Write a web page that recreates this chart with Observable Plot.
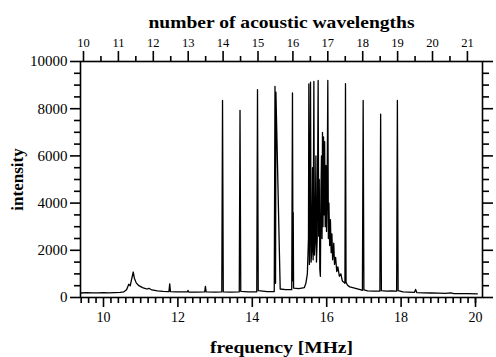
<!DOCTYPE html>
<html>
<head>
<meta charset="utf-8">
<script src="https://cdn.jsdelivr.net/npm/d3@7"></script>
<script src="https://cdn.jsdelivr.net/npm/@observablehq/plot@0.6"></script>
<style>
  html, body { margin: 0; padding: 0; background: #fff; }
  #chart svg { display: block; }
</style>
</head>
<body>
<div id="chart"></div>
<script>
// spectrum: frequency [MHz] and intensity
const freq = [
  9.40, 9.55, 9.70, 9.85, 10.00, 10.15, 10.30, 10.45, 10.55, 10.62, 10.68, 10.72, 10.76, 10.80, 10.83, 10.88, 10.95, 11.05, 11.13, 11.17, 11.22, 11.30, 11.45, 11.60, 11.76,
  11.78, 11.80, 11.95, 12.10, 12.25, 12.27, 12.29, 12.50, 12.72, 12.74, 12.76, 13.00, 13.18, 13.20, 13.22, 13.40, 13.65, 13.67, 13.69, 13.90, 14.12, 14.14, 14.16, 14.40, 14.59,
  14.61, 14.625, 14.635, 14.75, 14.90, 15.06, 15.08, 15.095, 15.10, 15.11, 15.25, 15.40, 15.44, 15.48, 15.51, 15.52, 15.535, 15.55, 15.565, 15.58, 15.60, 15.62, 15.635, 15.655,
  15.67, 15.69, 15.71, 15.725, 15.745, 15.77, 15.785, 15.80, 15.815, 15.83, 15.845, 15.86, 15.875, 15.887, 15.90, 15.915, 15.93, 15.945, 15.96, 15.98, 15.995, 16.01, 16.03,
  16.045, 16.06, 16.08, 16.10, 16.12, 16.14, 16.16, 16.19, 16.21, 16.24, 16.27, 16.30, 16.34, 16.38, 16.42, 16.46, 16.49, 16.505, 16.52, 16.56, 16.62, 16.70, 16.80, 16.90,
  16.96, 16.98, 17.00, 17.10, 17.25, 17.43, 17.45, 17.47, 17.60, 17.75, 17.88, 17.90, 17.92, 18.05, 18.20, 18.36, 18.39, 18.42, 18.60, 18.80, 19.00, 19.20, 19.33, 19.40,
  19.60, 19.80, 20.05
];
const intensity = [
  190, 205, 195, 200, 210, 200, 205, 215, 240, 330, 560, 500, 800, 1080, 820, 620, 500, 420, 380, 360, 390, 320, 280, 260, 250,
  580, 250, 240, 235, 235, 300, 230, 230, 240, 470, 240, 230, 235, 8350, 240, 230, 240, 7930, 260, 240, 240, 8810, 290, 250, 250,
  8950, 600, 8700, 360, 330, 330, 8670, 700, 3600, 400, 380, 420, 600, 1000, 2500, 9050, 1400, 3000, 9120, 1500, 2000, 5500, 1600, 9160,
  1800, 2400, 6000, 1500, 2500, 9200, 2600, 5000, 1200, 900, 4500, 6000, 2500, 7000, 3000, 6800, 3500, 6600, 3000, 5600, 2800, 4000, 9200,
  2500, 4000, 2200, 3300, 1900, 2700, 1600, 2300, 1400, 1700, 1100, 1300, 900, 1000, 700, 650, 600, 9060, 650, 520, 450, 420, 380, 330,
  300, 8350, 320, 280, 270, 270, 7770, 290, 270, 280, 270, 8350, 290, 240, 230, 220, 340, 210, 200, 190, 185, 175, 200, 170,
  165, 160, 155
];

// axis ticks
const freqTicks = [10, 12, 14, 16, 18, 20];
const freqMinorTicks = [9.4, 9.6, 9.8, 10.2, 10.4, 10.6, 10.8, 11, 11.2, 11.4, 11.6, 11.8, 12.2, 12.4, 12.6, 12.8, 13, 13.2, 13.4, 13.6, 13.8,
  14.2, 14.4, 14.6, 14.8, 15, 15.2, 15.4, 15.6, 15.8, 16.2, 16.4, 16.6, 16.8, 17, 17.2, 17.4, 17.6, 17.8, 18.2, 18.4, 18.6, 18.8, 19, 19.2, 19.4, 19.6, 19.8, 20];
const intensityTicks = [0, 2000, 4000, 6000, 8000, 10000];
const intensityMinorTicks = [500, 1000, 1500, 2500, 3000, 3500, 4500, 5000, 5500, 6500, 7000, 7500, 8500, 9000, 9500];
const wavelengthTicks = [10, 11, 12, 13, 14, 15, 16, 17, 18, 19, 20, 21];
const wavelengthMinorTicks = [10.5, 11.5, 12.5, 13.5, 14.5, 15.5, 16.5, 17.5, 18.5, 19.5, 20.5];
const wlFreqAt10 = 9.4624;
const wlFreqStep = 0.9382;

const titleTop = "number of acoustic wavelengths";
const titleX = "frequency [MHz]";
const titleY = "intensity";

const wl2f = n => wlFreqAt10 + wlFreqStep * (n - 10);
const f2wl = f => Math.round((f - wlFreqAt10) / wlFreqStep + 10);

const data = freq.map((f, i) => ({f, I: intensity[i]}));
const font = "Liberation Serif";
const sw = 1.6;

const chart = Plot.plot({
  width: 496,
  height: 357,
  marginLeft: 80,
  marginRight: 14,
  marginTop: 61,
  marginBottom: 60,
  style: {fontFamily: font, background: "#fff", color: "#000"},
  x: {domain: [9.382, 20.188]},
  y: {domain: [0, 10000]},
  marks: [
    Plot.line(data, {x: "f", y: "I", stroke: "#000", strokeWidth: 1.3}),
    Plot.frame({stroke: "#000", strokeWidth: sw}),
    // left axis
    Plot.axisY({anchor: "left", ticks: intensityTicks, tickSize: 10, tickPadding: 3, tickFormat: d3.format("d"), label: null, fontSize: 15, strokeWidth: sw}),
    Plot.axisY({anchor: "left", ticks: intensityMinorTicks, tickSize: 6, fill: "none", label: null, strokeWidth: sw}),
    // right axis
    Plot.axisY({anchor: "right", ticks: intensityTicks, tickSize: 10, fill: "none", label: null, strokeWidth: sw}),
    Plot.axisY({anchor: "right", ticks: intensityMinorTicks, tickSize: 6, fill: "none", label: null, strokeWidth: sw}),
    // bottom axis
    Plot.axisX({anchor: "bottom", ticks: freqTicks, tickSize: 10, tickPadding: 5, tickFormat: d3.format("d"), label: null, fontSize: 14, strokeWidth: sw}),
    Plot.axisX({anchor: "bottom", ticks: freqMinorTicks, tickSize: 6, fill: "none", label: null, strokeWidth: sw}),
    // top axis (number of acoustic wavelengths)
    Plot.axisX({anchor: "top", ticks: wavelengthTicks.map(wl2f), tickSize: 11, tickPadding: 4, tickFormat: f2wl, label: null, fontSize: 12.5, strokeWidth: sw}),
    Plot.axisX({anchor: "top", ticks: wavelengthMinorTicks.map(wl2f), tickSize: 6, fill: "none", label: null, strokeWidth: sw}),
    // titles
    Plot.text([titleTop], {frameAnchor: "top", dy: -46, fontWeight: "bold", fontSize: 17, fill: "#000"}),
    Plot.text([titleX], {frameAnchor: "bottom", dy: 55, fontWeight: "bold", fontSize: 17, fill: "#000"}),
    Plot.text([titleY], {frameAnchor: "left", dx: -63, rotate: -90, textAnchor: "middle", fontWeight: "bold", fontSize: 17, fill: "#000"})
  ]
});
// the scanned titles are slightly wider than the font at this size
d3.select(chart).selectAll("text").each(function () {
  const t = this.textContent;
  if (t === titleTop) d3.select(this).attr("textLength", 266).attr("lengthAdjust", "spacingAndGlyphs");
  if (t === titleX) d3.select(this).attr("textLength", 143).attr("lengthAdjust", "spacingAndGlyphs");
});
document.getElementById("chart").appendChild(chart);
</script>
</body>
</html>
